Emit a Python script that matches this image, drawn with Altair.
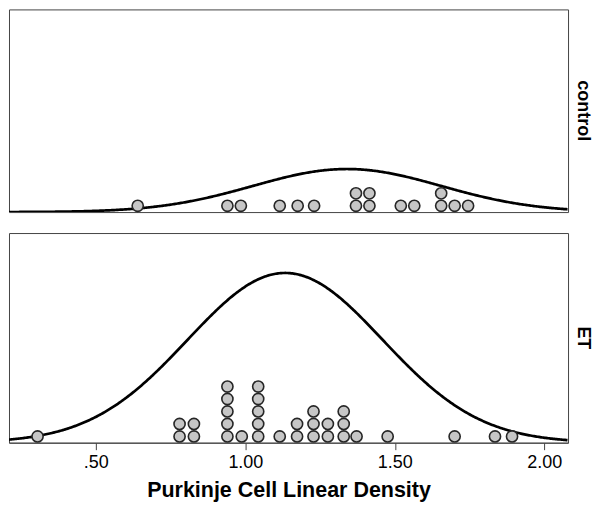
import altair as alt
import pandas as pd

# ---- data ----
control_values = [0.64, 0.94, 0.985, 1.115, 1.175, 1.23, 1.37, 1.37, 1.415, 1.415,
                  1.52, 1.565, 1.655, 1.655, 1.70, 1.745]
et_values = [0.305, 0.78, 0.78, 0.828, 0.828,
             0.94, 0.94, 0.94, 0.94, 0.94, 0.988,
             1.043, 1.043, 1.043, 1.043, 1.043, 1.115,
             1.173, 1.173, 1.228, 1.228, 1.228, 1.276, 1.276,
             1.329, 1.329, 1.329, 1.372, 1.476, 1.70, 1.835, 1.892]
x_ticks = [0.5, 1.0, 1.5, 2.0]
x_domain = [0.2095, 2.0793]

# fitted normal curves: mean, sd, peak height (in dot units)
control_fit = {"mean": 1.34, "sd": 0.315, "peak": 3.45}
et_fit = {"mean": 1.133, "sd": 0.326, "peak": 13.6}

DOT_PX = 12.5
FONT = "Liberation Sans"
W = 560


def panel(values, fit, label, height, show_axis):
    ydom = [0, height / DOT_PX]
    if show_axis:
        axis = alt.Axis(values=x_ticks,
                        labelExpr="datum.value < 1 ? substring(format(datum.value, '.2f'), 1) : format(datum.value, '.2f')",
                        title="Purkinje Cell Linear Density")
    else:
        axis = None
    xs = alt.Scale(domain=x_domain, nice=False, zero=False)
    ys = alt.Scale(domain=ydom, nice=False, zero=False)

    df = pd.DataFrame({"v": values})
    dots = (alt.Chart(df)
            .transform_window(k="row_number()", groupby=["v"])
            .transform_calculate(yk="datum.k - 0.5")
            .mark_circle(fill="#c6c6c6", stroke="#262626", strokeWidth=1.6, opacity=1, size=125)
            .encode(x=alt.X("v:Q", scale=xs, axis=axis),
                    y=alt.Y("yk:Q", scale=ys, axis=None)))

    curve = (alt.Chart(alt.sequence(x_domain[0], x_domain[1] + 0.002, 0.004, as_="v"))
             .transform_calculate(yk=f"{fit['peak']} * exp(-0.5 * pow((datum.v - {fit['mean']}) / {fit['sd']}, 2))")
             .mark_line(color="black", strokeWidth=2.7, clip=True)
             .encode(x=alt.X("v:Q", scale=xs, axis=axis),
                     y=alt.Y("yk:Q", scale=ys, axis=None)))

    return (alt.layer(curve, dots)
            .properties(width=W, height=height,
                        title=alt.TitleParams(label, orient="right", anchor="middle",
                                              fontSize=18, font=FONT, fontWeight="bold",
                                              color="black", offset=6)))


top = panel(control_values, control_fit, "control", 203, False)
bottom = panel(et_values, et_fit, "ET", 210, True)

chart = (alt.vconcat(top, bottom, spacing=16)
         .properties(padding={"left": 0, "top": 0, "right": 0, "bottom": 0})
         .configure_view(stroke="#444444", strokeWidth=1)
         .configure_axis(grid=False, domainColor="#444444", tickColor="#444444",
                         tickSize=7, labelFontSize=18, labelFont=FONT, labelColor="black",
                         labelPadding=4, titleFont=FONT, titleFontSize=21.5,
                         titleFontWeight="bold", titleColor="black", titlePadding=8))

chart.save("out.html", embed_options={"renderer": "svg", "actions": False})
